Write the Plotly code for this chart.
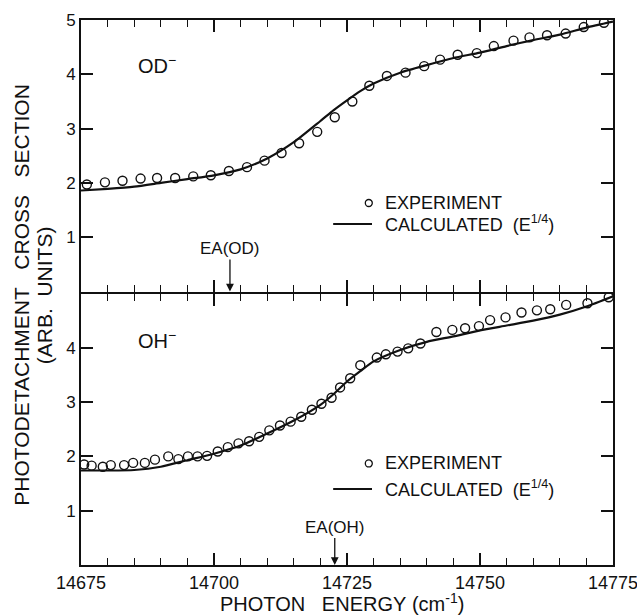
import plotly.graph_objects as go
from plotly.subplots import make_subplots

# ---------------- data ----------------
od_exp_energy = [14676.1, 14679.5, 14682.8, 14686.2, 14689.3, 14692.7, 14696.1, 14699.4, 14702.8, 14706.2,
                 14709.5, 14712.7, 14716.0, 14719.4, 14722.7, 14726.0, 14729.2, 14732.5, 14736.0, 14739.5,
                 14742.5, 14745.8, 14749.4, 14752.6, 14756.3, 14759.3, 14762.6, 14766.1, 14769.5, 14773.3]
od_exp_value = [1.97, 2.01, 2.04, 2.08, 2.09, 2.09, 2.12, 2.14, 2.22, 2.29,
                2.41, 2.55, 2.73, 2.94, 3.21, 3.50, 3.79, 3.97, 4.03, 4.15,
                4.27, 4.36, 4.39, 4.52, 4.62, 4.68, 4.72, 4.75, 4.87, 4.95]

od_calc_energy = [14675, 14680, 14685, 14690, 14695, 14700, 14705, 14710, 14715, 14720, 14722.5,
                  14725, 14727.5, 14730, 14735, 14740, 14745, 14750, 14755, 14760, 14765, 14770, 14775]
od_calc_value = [1.86, 1.89, 1.93, 2.00, 2.07, 2.14, 2.25, 2.45, 2.75, 3.14, 3.34,
                 3.52, 3.69, 3.83, 4.03, 4.17, 4.30, 4.40, 4.52, 4.63, 4.73, 4.86, 4.97]

oh_exp_energy = [14675.6, 14677.0, 14679.1, 14680.6, 14683.1, 14684.8, 14687.0, 14688.9, 14691.4, 14693.3,
                 14695.1, 14696.9, 14698.7, 14700.7, 14702.6, 14704.6, 14706.6, 14708.5, 14710.4, 14712.4,
                 14714.4, 14716.4, 14718.4, 14720.2, 14722.1, 14723.7, 14725.6, 14727.5, 14730.6, 14732.3,
                 14734.5, 14736.5, 14738.8, 14741.8, 14744.8, 14747.2, 14749.8, 14751.9, 14754.8, 14757.8,
                 14760.7, 14763.2, 14766.2, 14770.2, 14774.2]
oh_exp_value = [1.85, 1.83, 1.81, 1.84, 1.84, 1.88, 1.88, 1.94, 2.00, 1.95,
                2.00, 2.00, 2.01, 2.09, 2.17, 2.24, 2.28, 2.36, 2.48, 2.57,
                2.64, 2.73, 2.86, 2.97, 3.08, 3.27, 3.44, 3.68, 3.82, 3.88,
                3.93, 3.99, 4.08, 4.29, 4.33, 4.36, 4.40, 4.51, 4.56, 4.65,
                4.69, 4.71, 4.79, 4.82, 4.93]

oh_calc_energy = [14675, 14680, 14685, 14690, 14695, 14700, 14705, 14710, 14715, 14720, 14722.5,
                  14725, 14727.5, 14730, 14735, 14740, 14745, 14750, 14755, 14760, 14765, 14770, 14775]
oh_calc_value = [1.74, 1.74, 1.75, 1.81, 1.93, 2.05, 2.20, 2.42, 2.66, 2.95, 3.15,
                 3.38, 3.57, 3.75, 3.96, 4.11, 4.21, 4.32, 4.41, 4.50, 4.61, 4.76, 4.95]

x_tick_vals = [14675, 14700, 14725, 14750, 14775]
x_tick_text = ["14675", "14700", "14725", "14750", "14775"]
x_minor_vals = [v for v in range(14680, 14775, 5) if v not in x_tick_vals]
top_y_ticks = [1, 2, 3, 4, 5]
bottom_y_ticks = [1, 2, 3, 4]

ea_od = 14703.0
ea_oh = 14722.7

FONT = "Liberation Sans, Arial, sans-serif"
BLACK = "#111111"
NB = "\u00a0"

fig = make_subplots(rows=2, cols=1, shared_xaxes=True, vertical_spacing=0)

marker_style = dict(symbol="circle-open", size=9, color=BLACK, line=dict(width=1.4, color=BLACK))
line_style = dict(color=BLACK, width=2.2, shape="spline", smoothing=0.6)

fig.add_trace(go.Scatter(x=od_calc_energy, y=od_calc_value, mode="lines", line=line_style,
                         showlegend=False, hoverinfo="skip"), row=1, col=1)
fig.add_trace(go.Scatter(x=od_exp_energy, y=od_exp_value, mode="markers", marker=marker_style,
                         showlegend=False), row=1, col=1)
fig.add_trace(go.Scatter(x=oh_calc_energy, y=oh_calc_value, mode="lines", line=line_style,
                         showlegend=False, hoverinfo="skip"), row=2, col=1)
fig.add_trace(go.Scatter(x=oh_exp_energy, y=oh_exp_value, mode="markers", marker=marker_style,
                         showlegend=False), row=2, col=1)

xcommon = dict(range=[14675, 14775], tickmode="array", tickvals=x_tick_vals, ticktext=x_tick_text,
               ticks="inside", ticklen=12, tickwidth=1.5, tickcolor=BLACK,
               minor=dict(tickmode="array", tickvals=x_minor_vals, ticks="inside", ticklen=7,
                          tickwidth=1.3, tickcolor=BLACK),
               showline=True, linewidth=2, linecolor=BLACK, mirror="allticks",
               showgrid=False, zeroline=False, ticklabeloverflow="allow", automargin=False,
               tickfont=dict(family=FONT, size=18, color=BLACK))
fig.update_xaxes(**xcommon)
fig.update_xaxes(showticklabels=False, row=1, col=1)

gap = 1.0 / 545
ycommon = dict(range=[0, 5], tickmode="array", ticks="inside", ticklen=12, tickwidth=1.5,
               tickcolor=BLACK, showline=True, linewidth=2, linecolor=BLACK, mirror="allticks",
               showgrid=False, zeroline=False, automargin=False,
               tickfont=dict(family=FONT, size=17, color=BLACK))
fig.update_yaxes(**ycommon)
fig.update_yaxes(tickvals=top_y_ticks, ticktext=[str(v) for v in top_y_ticks],
                 domain=[0.5 + gap, 1], row=1, col=1)
fig.update_yaxes(tickvals=bottom_y_ticks, ticktext=[str(v) for v in bottom_y_ticks],
                 domain=[0, 0.5 - gap], row=2, col=1)

annos = []
shapes = []
txt = dict(family=FONT, size=18, color=BLACK)

# panel labels
annos.append(dict(x=14685.3, y=4.18, xref="x", yref="y", text="OD<sup>−</sup>", showarrow=False,
                  xanchor="left", yanchor="middle", font=dict(family=FONT, size=20, color=BLACK)))
annos.append(dict(x=14685.3, y=4.16, xref="x2", yref="y2", text="OH<sup>−</sup>", showarrow=False,
                  xanchor="left", yanchor="middle", font=dict(family=FONT, size=20, color=BLACK)))

# legends (drawn in each panel)
for xr, yr, y_exp, y_calc in [("x", "y", 1.63, 1.245), ("x2", "y2", 1.87, 1.40)]:
    shapes.append(dict(type="circle", xref=xr, yref=yr, xsizemode="pixel", ysizemode="pixel",
                       xanchor=14729.1, yanchor=y_exp, x0=-3.5, x1=3.5, y0=-3.5, y1=3.5,
                       line=dict(color=BLACK, width=1.3)))
    annos.append(dict(x=14731.8, y=y_exp, xref=xr, yref=yr, text="EXPERIMENT", showarrow=False,
                      xanchor="left", yanchor="middle", font=txt))
    shapes.append(dict(type="line", xref=xr, yref=yr, x0=14722.4, x1=14729.7, y0=y_calc, y1=y_calc,
                       line=dict(color=BLACK, width=2)))
    annos.append(dict(x=14731.8, y=y_calc, xref=xr, yref=yr,
                      text="CALCULATED" + NB + " (E<sup>1/4</sup>)",
                      showarrow=False, xanchor="left", yanchor="middle", font=txt))

# EA arrows
annos.append(dict(x=ea_od, y=0, xref="x", yref="y", text="EA(OD)", showarrow=True, ax=0, ay=-43,
                  arrowhead=2, arrowsize=1.2, arrowwidth=1.3, arrowcolor=BLACK, standoff=0,
                  font=dict(family=FONT, size=17, color=BLACK)))
annos.append(dict(x=ea_oh, y=0, xref="x2", yref="y2", text="EA(OH)", showarrow=True, ax=0, ay=-38,
                  arrowhead=2, arrowsize=1.2, arrowwidth=1.3, arrowcolor=BLACK, standoff=0,
                  font=dict(family=FONT, size=17, color=BLACK)))

# axis titles
annos.append(dict(x=0, y=0.495, xref="paper", yref="paper", xshift=-59.5,
                  text="PHOTODETACHMENT" + NB + NB + " CROSS" + NB + NB + " SECTION", textangle=-90,
                  showarrow=False, xanchor="center", yanchor="middle",
                  font=dict(family=FONT, size=21, color=BLACK)))
annos.append(dict(x=0, y=0.495, xref="paper", yref="paper", xshift=-37,
                  text="(ARB." + NB + " UNITS)", textangle=-90, showarrow=False,
                  xanchor="center", yanchor="middle", font=dict(family=FONT, size=21, color=BLACK)))
annos.append(dict(x=0.49, y=0, xref="paper", yref="paper", yshift=-37,
                  text="PHOTON" + NB + NB + " ENERGY" + NB + "(cm<sup>-1</sup>)", showarrow=False,
                  xanchor="center", yanchor="middle", font=dict(family=FONT, size=20, color=BLACK)))

fig.update_layout(width=637, height=616, margin=dict(l=81, r=24, t=20, b=51, autoexpand=False),
                  paper_bgcolor="white", plot_bgcolor="white",
                  annotations=annos, shapes=shapes, showlegend=False,
                  font=dict(family=FONT, color=BLACK))

fig.write_html("out.html", config={"displayModeBar": False},
               post_script="document.body.style.margin='0';document.body.style.overflow='hidden';")
